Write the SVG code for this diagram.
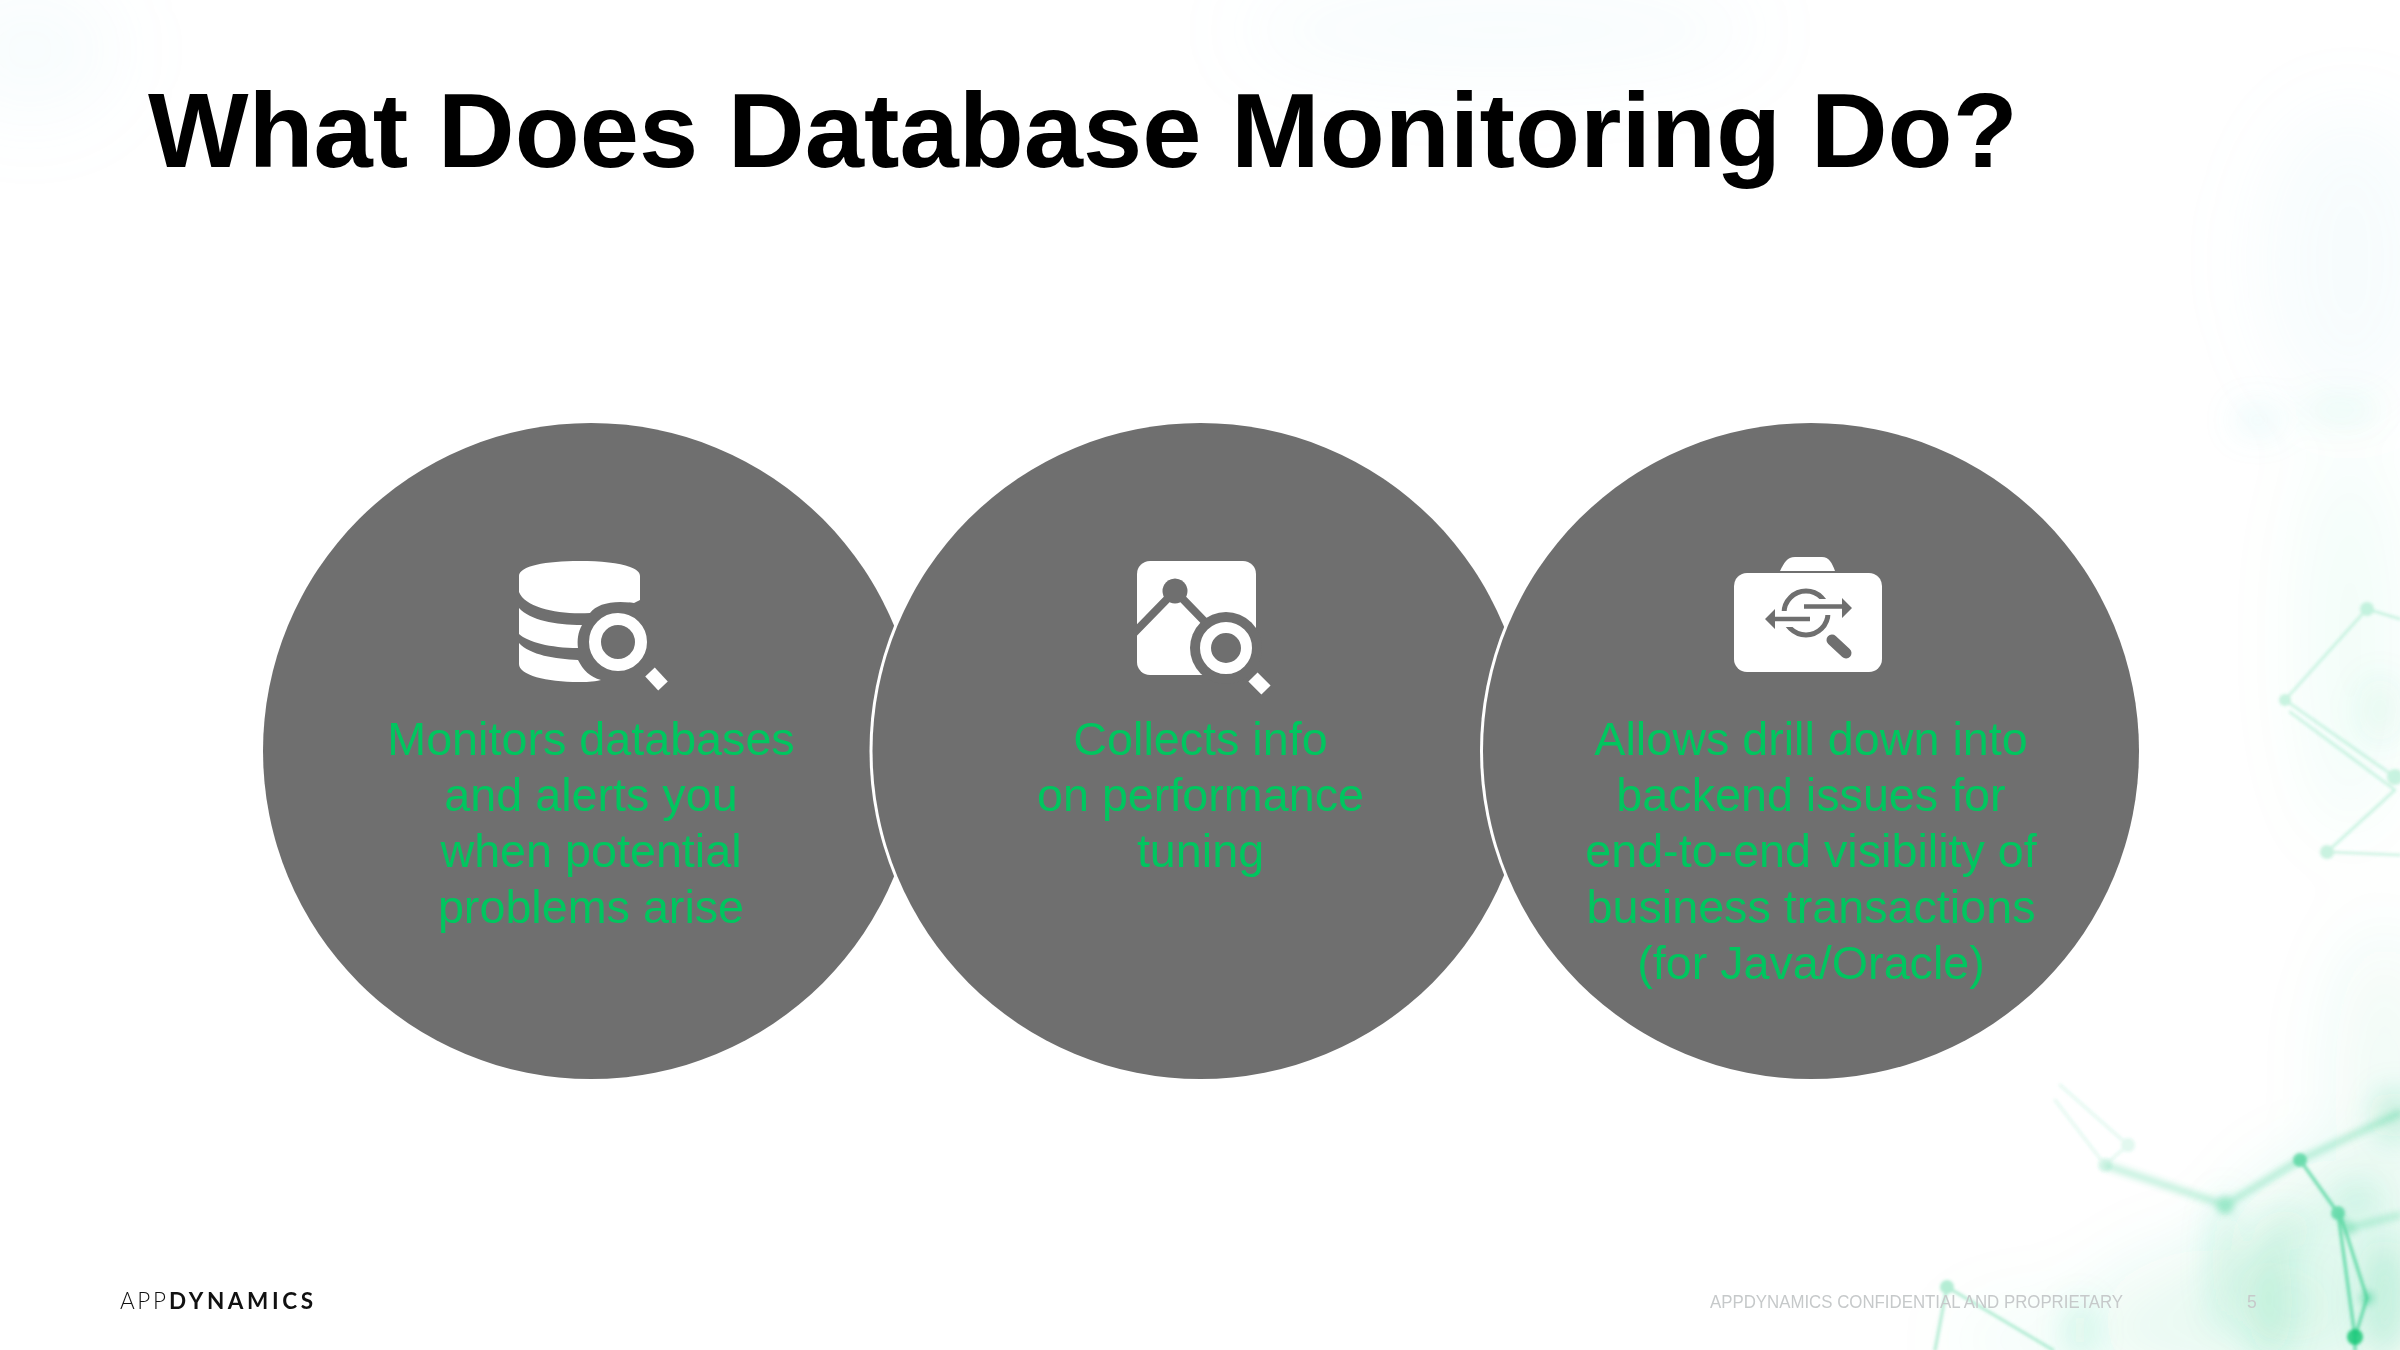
<svg xmlns="http://www.w3.org/2000/svg" width="2400" height="1350" viewBox="0 0 2400 1350">
<style>
.t{font-family:"Liberation Sans",Arial,sans-serif}
.body{font-size:46.7px;fill:#00c65f;text-anchor:middle}
.c{fill:#6f6f6f}
.w{fill:#fff}
.g{fill:#6f6f6f}
.gl{stroke:#6f6f6f;fill:none}
.ln{stroke:#2fce8b;fill:none;stroke-linecap:round}
.nd{fill:#2fce8b}
</style>
<defs>
<filter id="b60" x="0" y="0" width="2400" height="1350" filterUnits="userSpaceOnUse"><feGaussianBlur stdDeviation="38"/></filter>
<filter id="b20" x="0" y="0" width="2400" height="1350" filterUnits="userSpaceOnUse"><feGaussianBlur stdDeviation="16"/></filter>
<filter id="b2" x="0" y="0" width="2400" height="1350" filterUnits="userSpaceOnUse"><feGaussianBlur stdDeviation="1.6"/></filter>
<filter id="b4" x="0" y="0" width="2400" height="1350" filterUnits="userSpaceOnUse"><feGaussianBlur stdDeviation="3.5"/></filter>
</defs>
<rect width="2400" height="1350" fill="#fff"/>
<g id="background">
<g filter="url(#b60)">
<ellipse cx="2340" cy="1270" rx="110" ry="110" fill="#2fce8b" opacity=".13"/>
<ellipse cx="2220" cy="1320" rx="120" ry="70" fill="#2fce8b" opacity=".1"/>
<ellipse cx="2060" cy="1340" rx="110" ry="35" fill="#2fce8b" opacity=".05"/>
<ellipse cx="2385" cy="1080" rx="50" ry="150" fill="#2fce8b" opacity=".08"/>
<ellipse cx="2350" cy="640" rx="50" ry="200" fill="#2fce8b" opacity=".05"/>
<ellipse cx="2350" cy="260" rx="90" ry="150" fill="#a8dcea" opacity=".09"/>
<ellipse cx="1500" cy="30" rx="260" ry="50" fill="#a8dcea" opacity=".08"/>
<ellipse cx="30" cy="50" rx="90" ry="70" fill="#a8dcea" opacity=".08"/>
</g>
<g filter="url(#b20)">
<ellipse cx="2340" cy="410" rx="40" ry="14" fill="#2fce8b" opacity=".07"/>
<ellipse cx="2270" cy="1300" rx="22" ry="60" fill="#2fce8b" opacity=".15"/>
<ellipse cx="2285" cy="1230" rx="26" ry="20" fill="#2fce8b" opacity=".1"/>
<ellipse cx="2080" cy="1330" rx="12" ry="30" fill="#2fce8b" opacity=".18"/>
<ellipse cx="2355" cy="1200" rx="16" ry="12" fill="#2fce8b" opacity=".2"/>
<ellipse cx="2395" cy="1115" rx="16" ry="22" fill="#2fce8b" opacity=".35"/>
<ellipse cx="2380" cy="710" rx="22" ry="34" fill="#2fce8b" opacity=".08"/>
<ellipse cx="2258" cy="420" rx="24" ry="14" fill="#7fd8d8" opacity=".16"/>
<ellipse cx="2225" cy="1260" rx="14" ry="70" fill="#2fce8b" opacity=".12"/>
<ellipse cx="2385" cy="1300" rx="20" ry="60" fill="#2fce8b" opacity=".22"/>
</g>
<g filter="url(#b4)" opacity=".42">
<path class="ln" stroke-width="5" d="M2225 1205L2300 1160L2400 1113M2225 1205L2105 1165"/>
<circle class="nd" cx="2225" cy="1205" r="9"/>
<circle class="nd" cx="2350" cy="1228" r="6"/>
<circle class="nd" cx="2367" cy="1298" r="7"/>
<path class="ln" stroke-width="4" d="M2338 1213L2350 1228L2400 1215"/>
</g>
<g filter="url(#b2)">
<g opacity=".25">
<path class="ln" stroke-width="2.5" d="M2285 700L2367 609L2400 619M2285 700L2395 777M2290 712L2395 790"/>
<circle class="nd" cx="2367" cy="609" r="7"/>
<circle class="nd" cx="2285" cy="700" r="6"/>
<circle class="nd" cx="2395" cy="777" r="8"/>
<path class="ln" stroke-width="2.5" d="M2395 790L2327 852L2400 855"/>
<circle class="nd" cx="2327" cy="852" r="7"/>
</g>
<g opacity=".14">
<path class="ln" stroke-width="2.5" d="M2055 1100L2105 1165L2128 1145L2060 1085"/>
<circle class="nd" cx="2105" cy="1165" r="7"/>
<circle class="nd" cx="2128" cy="1145" r="7"/>
</g>
<g opacity=".6">
<path class="ln" stroke-width="3.5" d="M2300 1160L2338 1213L2355 1337L2367 1298L2342 1220M2355 1337V1350"/>
<circle class="nd" cx="2300" cy="1160" r="7"/>
<circle class="nd" cx="2338" cy="1213" r="7"/>
</g>
<circle cx="2355" cy="1337" r="8" fill="#18c877" opacity=".85"/>
<g opacity=".36">
<path class="ln" stroke-width="3" d="M1935 1350L1947 1287L2053 1350"/>
<circle class="nd" cx="1947" cy="1287" r="7"/>
</g>
</g>
</g>

<text class="t" x="148" y="167" font-size="106.500" font-weight="700" fill="#000">What Does Database Monitoring Do?</text>

<g id="node-1">
<circle class="c" cx="591" cy="751" r="328"/>
<g id="icon-1">
<path class="w" d="M519 576C519 566 546 561 579.500 561C613 561 640 566 640 576V600L634 603C612 600 597 604 590 613C560 615 525 608 519 592Z"/>
<path class="w" d="M519 608C530 620 555 625 582 625C578 632 577 640 578 648C550 648 528 642 519 634Z"/>
<path class="w" d="M519 643C530 655 555 659 578 660C583 670 590 677 601 680C592 682 586 682 579 682C546 682 519 675 519 664Z"/>
<circle cx="618" cy="642" r="23" fill="none" stroke="#fff" stroke-width="12"/>
<path d="M650 672L663 686" stroke="#fff" stroke-width="13" fill="none"/>
</g>
<text class="t body"><tspan x="591" y="755">Monitors databases</tspan><tspan x="591" y="811">and alerts you</tspan><tspan x="591" y="867">when potential</tspan><tspan x="591" y="923">problems arise</tspan></text>
</g>

<g id="node-2">
<circle cx="1200.500" cy="751" r="331" fill="#fff"/>
<circle class="c" cx="1200.500" cy="751" r="328"/>
<g id="icon-2">
<rect class="w" x="1137" y="561" width="119" height="114" rx="13"/>
<path class="gl" stroke-width="8" d="M1134 633L1175 591L1208 625"/>
<circle class="g" cx="1175" cy="591" r="12.500"/>
<circle class="c" cx="1226" cy="648" r="36"/>
<rect class="g" x="1203" y="650" width="55" height="27"/>
<circle cx="1226" cy="648" r="20.500" fill="none" stroke="#fff" stroke-width="11"/>
<path d="M1253 677L1266 690" stroke="#fff" stroke-width="13" fill="none"/>
</g>
<text class="t body"><tspan x="1200.500" y="755">Collects info</tspan><tspan x="1200.500" y="811">on performance</tspan><tspan x="1200.500" y="867">tuning</tspan></text>
</g>

<g id="node-3">
<circle cx="1811" cy="751" r="331" fill="#fff"/>
<circle class="c" cx="1811" cy="751" r="328"/>
<g id="icon-3">
<path class="w" d="M1780 571C1784 563 1787 557 1795 557H1822C1829 557 1832 563 1835 571Z"/>
<rect class="w" x="1734" y="573" width="148" height="99" rx="13"/>
<circle cx="1806" cy="613" r="22" fill="none" stroke="#6f6f6f" stroke-width="5"/>
<path d="M1798 607H1860M1805 619H1755" stroke="#fff" stroke-width="16" fill="none"/>
<path class="gl" stroke-width="4.500" d="M1804 606.500H1845M1810 619H1772"/>
<path class="g" d="M1852 608L1842 598V618ZM1765 619L1775 609V629Z"/>
<path class="gl" stroke-width="11" stroke-linecap="round" d="M1832 640L1846 653"/>
</g>
<text class="t body"><tspan x="1811" y="755">Allows drill down into</tspan><tspan x="1811" y="811">backend issues for</tspan><tspan x="1811" y="867">end-to-end visibility of</tspan><tspan x="1811" y="923">business transactions</tspan><tspan x="1811" y="979">(for Java/Oracle)</tspan></text>
</g>

<g id="footer">
<text x="120" y="1308.500" font-family="Lato,sans-serif" font-size="22.500" font-weight="300" fill="#111" textLength="46" lengthAdjust="spacing">APP</text>
<text x="169" y="1308.500" font-family="Lato,sans-serif" font-size="22.500" font-weight="700" fill="#111" textLength="144" lengthAdjust="spacing">DYNAMICS</text>
<text class="t" x="1710" y="1308" font-size="17.500" fill="#c6c9ca" textLength="413" lengthAdjust="spacingAndGlyphs">APPDYNAMICS CONFIDENTIAL AND PROPRIETARY</text>
<text class="t" x="2247" y="1308" font-size="17.500" fill="#c6c9ca">5</text>
</g>
</svg>
